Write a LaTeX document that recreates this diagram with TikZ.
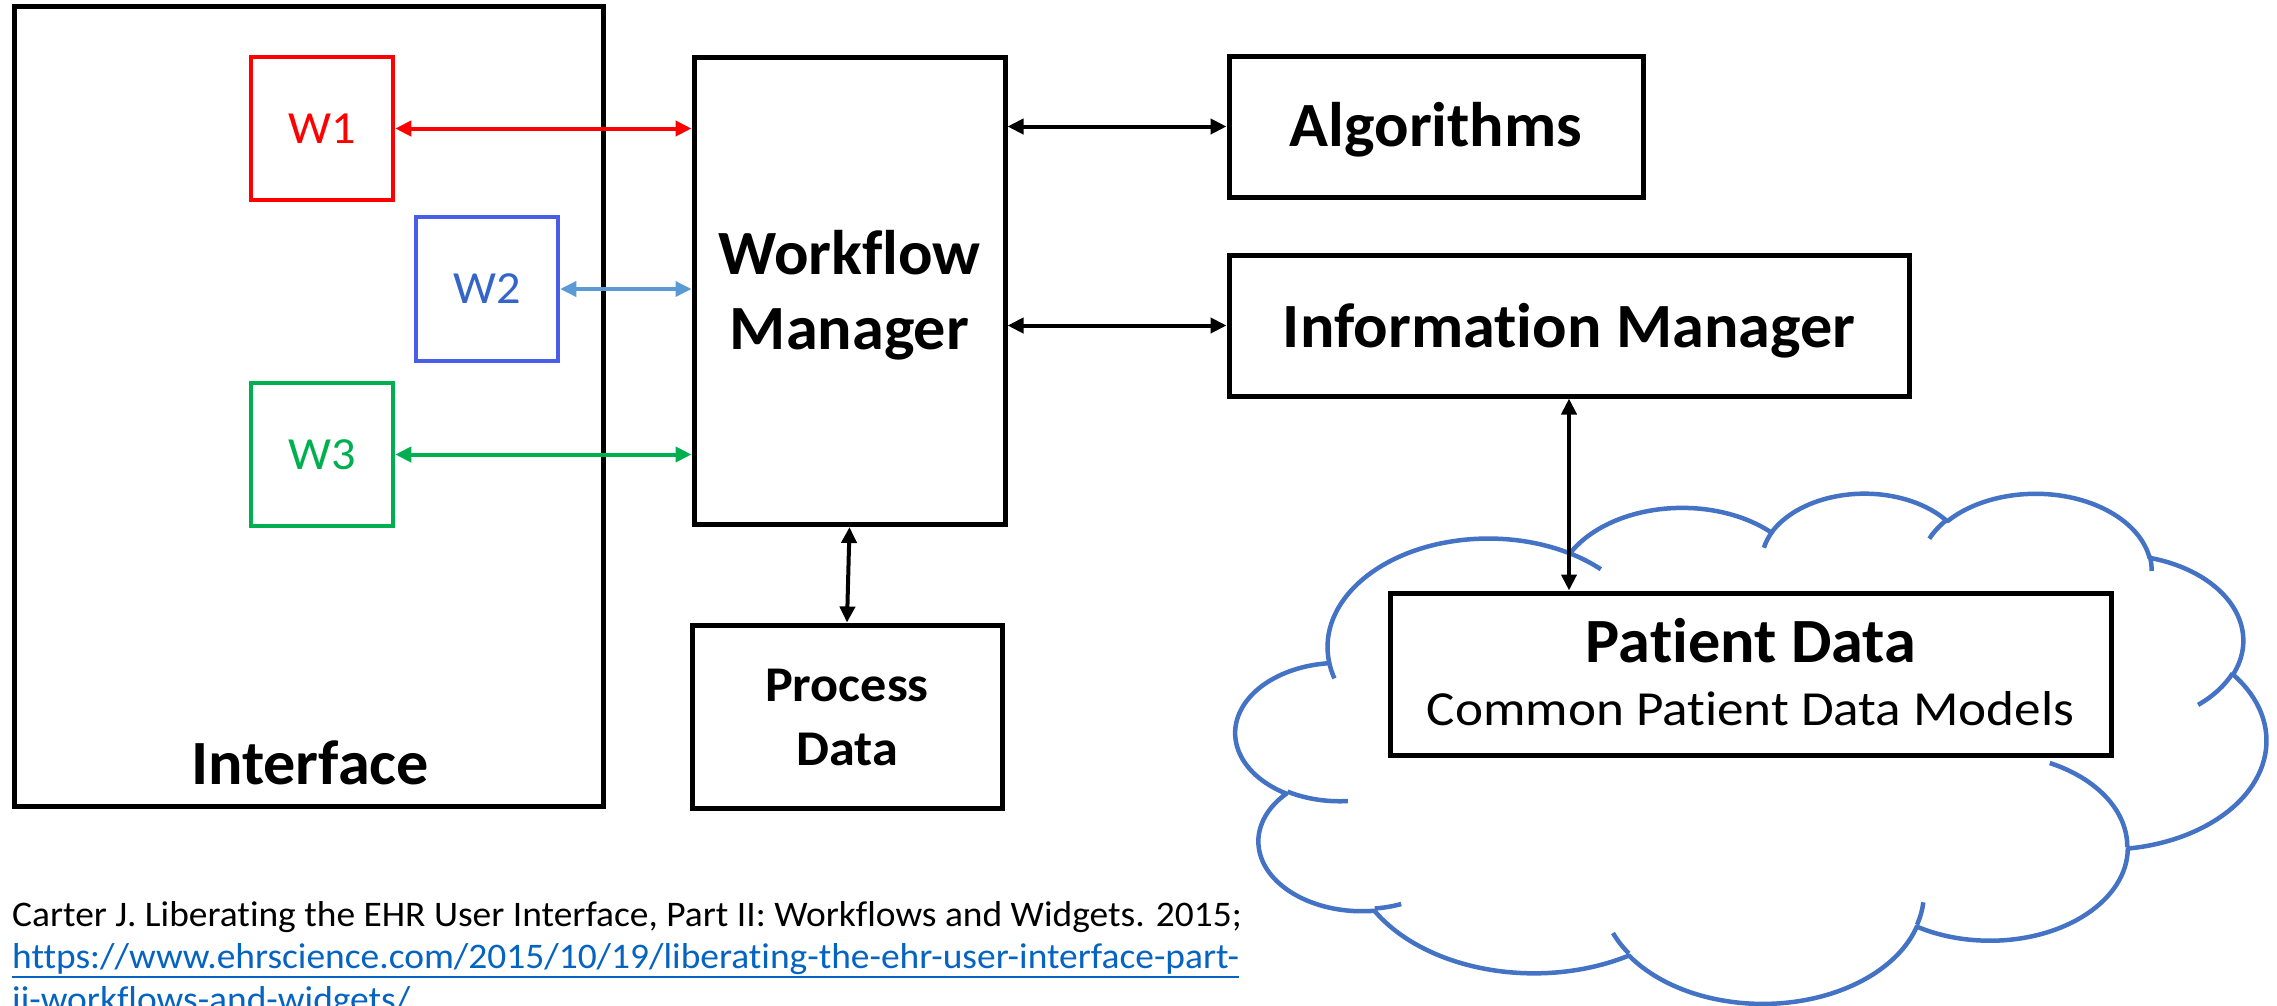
\documentclass[tikz,border=0pt]{standalone}
\usepackage{fontspec}
\setmainfont{Carlito}[Ligatures={NoCommon}]
\newfontfamily\fbig{Carlito}[Ligatures={NoCommon}, FakeStretch=1.02]
\newfontfamily\fw{Carlito}[Ligatures={NoCommon}, FakeStretch=1.05]
\newfontfamily\fproc{Carlito}[Ligatures={NoCommon}, FakeStretch=1.045]
\newfontfamily\fsub{Carlito}[Ligatures={NoCommon}, FakeStretch=1.085]
\newfontfamily\fcite{Carlito}[Ligatures={NoCommon}, FakeStretch=1.04]
\usetikzlibrary{arrows.meta}
\definecolor{wred}{RGB}{255,0,0}
\definecolor{wblue}{RGB}{72,94,232}
\definecolor{wbluetext}{RGB}{52,101,200}
\definecolor{wbluearrow}{RGB}{91,155,213}
\definecolor{wgreen}{RGB}{0,176,80}
\definecolor{cloudblue}{RGB}{68,114,196}
\definecolor{linkblue}{RGB}{5,99,193}
\newcommand\myul[1]{\setbox0\hbox{#1}\rlap{\rule[-10pt]{\wd0}{2.2pt}}\box0}
% OOXML-style arcTo: wR, hR, stAng, swAng (visual angles, y down)
\newcommand\cloudarc[4]{arc[x radius=#1, y radius=#2,
  start angle={atan2((#1)*sin(#3),(#2)*cos(#3))},
  delta angle={mod(atan2((#1)*sin((#3)+(#4)),(#2)*cos((#3)+(#4)))-atan2((#1)*sin(#3),(#2)*cos(#3))+720,360)}]}
\begin{document}
\begin{tikzpicture}[x=1pt,y=-1pt,
  box/.style={draw=black, line width=5pt, inner sep=0pt},
  wbox/.style={line width=4.5pt, inner sep=0pt, minimum width=142pt, minimum height=143pt,
    font=\fw\fontsize{46}{54}\selectfont},
  bigtxt/.style={inner sep=0pt, anchor=base, font=\fbig\fontsize{63}{74}\selectfont\bfseries},
  midtxt/.style={inner sep=0pt, anchor=base, font=\fproc\fontsize{50}{58}\selectfont\bfseries},
  subtxt/.style={inner sep=0pt, anchor=base, font=\fsub\fontsize{49}{58}\selectfont},
  cite/.style={inner sep=0pt, anchor=base west, font=\fcite\fontsize{36}{42}\selectfont},
  tips/.style={{Triangle[length=16pt,width=15pt]}-{Triangle[length=16pt,width=15pt]}},
  conn/.style={line width=4pt, tips},
  cloudline/.style={draw=cloudblue, line width=4.5pt}
]
\useasboundingbox (0,0) rectangle (2277,1005);
\fill[white] (0,0) rectangle (2277,1005);

% cloud (PowerPoint cloud geometry, path units /100)
\begin{scope}[shift={(1236pt,-492pt)}, x=2.3843pt, y=-1.1806pt]
\draw[cloudline, line join=round]
  (39.00,143.70)
  \cloudarc{67.53}{91.90}{-190.4875}{123.7805}
  \cloudarc{53.33}{72.67}{-144.1024}{89.9452}
  \cloudarc{43.65}{59.45}{-145.8079}{99.7230}
  \cloudarc{48.57}{65.95}{-130.9861}{117.2417}
  \cloudarc{53.33}{72.73}{-78.7089}{109.0269}
  \cloudarc{67.75}{92.20}{-46.2673}{130.2690}
  \cloudarc{57.85}{78.67}{0.6250}{114.0333}
  \cloudarc{67.52}{92.15}{22.4516}{115.1726}
  \cloudarc{77.20}{105.43}{66.2426}{75.7110}
  \cloudarc{43.60}{59.18}{-274.9421}{146.7356}
  \cloudarc{43.45}{59.45}{-246.8285}{152.5189}
  -- cycle;
\draw[cloudline]
  (46.93,261.77) \cloudarc{43.45}{59.45}{86.7420}{26.4295}
  (69.28,348.99) \cloudarc{43.60}{59.18}{73.6105}{11.4475}
  (164.78,390.90) \cloudarc{67.52}{92.15}{137.6242}{14.0811}
  (288.27,347.51) \cloudarc{67.52}{92.15}{6.4533}{15.9984}
  (341.29,229.54) \cloudarc{57.85}{78.67}{-70.2924}{70.9174}
  (417.98,153.54) \cloudarc{53.33}{72.73}{30.3180}{27.7515}
  (383.24,54.26) \cloudarc{48.57}{65.95}{-13.7443}{14.8589}
  (290.78,39.52) \cloudarc{48.57}{65.95}{-149.1815}{18.1954}
  (221.41,47.20) \cloudarc{43.65}{59.45}{-163.4943}{17.6864}
  (140.00,51.92) \cloudarc{67.53}{91.90}{-66.7070}{12.3194}
  (41.27,157.89) \cloudarc{67.53}{91.90}{157.6544}{11.8582};
\end{scope}

% boxes
\node[box, minimum width=589pt, minimum height=800pt] (iface) at (309,406) {};
\node[wbox, draw=wred, text=wred] (w1) at (322,128.5) {W1};
\node[wbox, draw=wblue, text=wbluetext, minimum height=144pt] (w2) at (487,289) {W2};
\node[wbox, draw=wgreen, text=wgreen] (w3) at (322,454.5) {W3};
\node[box, minimum width=311pt, minimum height=467pt] (wm) at (849.5,291) {};
\node[box, minimum width=310pt, minimum height=183pt] (pd) at (847,716.5) {};
\node[box, minimum width=414pt, minimum height=141pt] (alg) at (1436,126.5) {};
\node[box, minimum width=680pt, minimum height=141pt] (im) at (1569,325.5) {};
\node[box, fill=white, minimum width=721pt, minimum height=162pt] (pdata) at (1750.5,674) {};

% texts
\node[bigtxt] (ifacet) at (310,784.5) {Interface};
\node[bigtxt] (wmt1) at (849.5,274.6) {Workflow};
\node[bigtxt] (wmt2) at (849.5,349) {Manager};
\node[midtxt] (pdt1) at (847,701) {Process};
\node[midtxt] (pdt2) at (847,765) {Data};
\node[bigtxt] (algt) at (1436,146.7) {Algorithms};
\node[bigtxt] (imt) at (1569,347) {Information Manager};
\node[bigtxt] (pat1) at (1751,662) {Patient Data};
\node[subtxt] (pat2) at (1750.5,725) {Common Patient Data Models};

% connectors
\draw[conn, draw=wred, fill=wred] (w1.east) -- (w1.east -| wm.west);
\draw[conn, draw=wbluearrow, fill=wbluearrow, line width=3.5pt] (w2.east) -- (w2.east -| wm.west);
\draw[conn, draw=wgreen, fill=wgreen] (w3.east) -- (w3.east -| wm.west);
\draw[conn] (alg.west -| wm.east) -- (alg.west);
\draw[conn] (im.west -| wm.east) -- (im.west);
\draw[conn] (wm.south) -- (pd.north);
\draw[conn] (im.south) -- (im.south |- pdata.north);

% citation
\node[cite] (c1) at (12,926.5) {Carter J. Liberating the EHR User Interface, Part II: Workflows and Widgets. 2015;};
\node[cite, text=linkblue] (c2) at (12,968) {\myul{https://www.ehrscience.com/2015/10/19/liberating-the-ehr-user-interface-part-}};
\node[cite, text=linkblue] (c3) at (12,1011) {\myul{ii-workflows-and-widgets/}};
\end{tikzpicture}
\end{document}
